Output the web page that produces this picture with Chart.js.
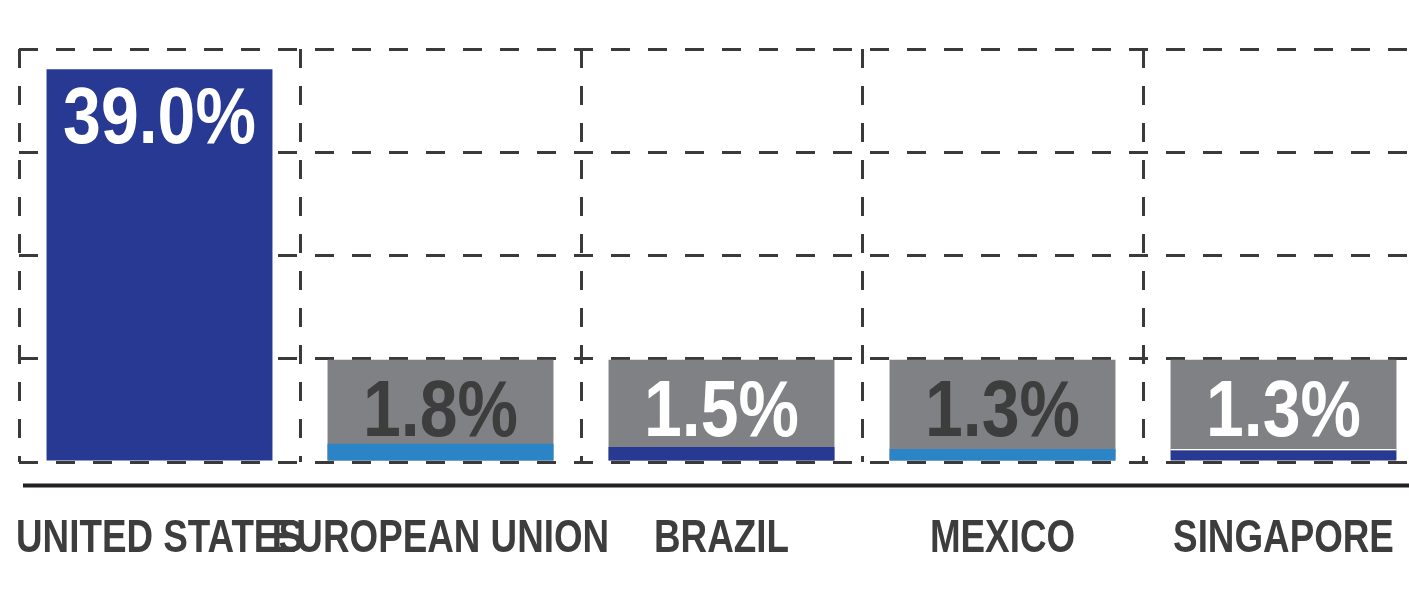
<!DOCTYPE html>
<html>
<head>
<meta charset="utf-8">
<script src="https://cdn.jsdelivr.net/npm/chart.js@4"></script>
<style>
  html, body { margin: 0; padding: 0; background: #fff; overflow: hidden; }
  #wrap { position: relative; width: 1440px; height: 592px; }
</style>
</head>
<body>
<div id="wrap"><canvas id="chart"></canvas></div>
<script>
// share of exports (%)
const countries = ['UNITED STATES', 'EUROPEAN UNION', 'BRAZIL', 'MEXICO', 'SINGAPORE'];
const shares    = [39.0, 1.8, 1.5, 1.3, 1.3];
const gridSteps = [0, 10.25, 20.5, 30.75, 41];

const barColors   = ['#283993', '#2b84c6', '#283993', '#2b84c6', '#283993'];
const valueColors = ['#ffffff', '#3d3d3d', '#ffffff', '#3d3d3d', '#ffffff'];
const FONT = "'Liberation Sans', Arial, sans-serif";

// draw text squeezed horizontally to imitate a condensed face
function narrowText(ctx, txt, x, y, squeeze) {
  ctx.save();
  ctx.translate(x, y);
  ctx.scale(squeeze, 1);
  ctx.fillText(txt, 0, 0);
  ctx.restore();
}

// grey label box behind the short bars, value texts, category names, base line
const decorations = {
  id: 'decorations',
  beforeDatasetsDraw(chart) {
    const { ctx, scales: { y } } = chart;
    const boxTop = y.getPixelForValue(gridSteps[1]) + 1;
    chart.getDatasetMeta(0).data.forEach((bar, i) => {
      if (shares[i] >= gridSteps[1]) return;
      const { x, width, base } = bar.getProps(['x', 'width', 'base'], true);
      ctx.save();
      ctx.fillStyle = '#808184';
      ctx.fillRect(x - width / 2, boxTop, width, base - boxTop);
      ctx.restore();
    });
  },
  afterDatasetsDraw(chart) {
    const { ctx, scales: { y } } = chart;
    const boxTop = y.getPixelForValue(gridSteps[1]);
    ctx.save();
    ctx.font = `bold 80px ${FONT}`;
    ctx.textAlign = 'center';
    ctx.textBaseline = 'alphabetic';
    chart.getDatasetMeta(0).data.forEach((bar, i) => {
      const { x, y: top, base } = bar.getProps(['x', 'y', 'base'], true);
      ctx.fillStyle = valueColors[i];
      const yy = shares[i] >= gridSteps[1] ? top + 74 : boxTop + (base - boxTop) * 0.76;
      narrowText(ctx, shares[i].toFixed(1) + '%', x, yy, 0.85);
    });
    ctx.restore();
  },
  afterDraw(chart) {
    const { ctx, chartArea, scales: { x } } = chart;
    ctx.save();
    ctx.strokeStyle = '#231f20';
    ctx.lineWidth = 4;
    ctx.beginPath();
    ctx.moveTo(chartArea.left + 4, chartArea.bottom + 23.5);
    ctx.lineTo(chart.width, chartArea.bottom + 23.5);
    ctx.stroke();

    ctx.fillStyle = '#3d3d3d';
    ctx.font = `bold 46px ${FONT}`;
    ctx.textAlign = 'center';
    ctx.textBaseline = 'alphabetic';
    countries.forEach((c, i) => {
      narrowText(ctx, c, x.getPixelForValue(i), chartArea.bottom + 90, 0.8);
    });
    ctx.restore();
  },
};

new Chart(document.getElementById('chart'), {
  type: 'bar',
  data: {
    labels: countries,
    datasets: [{
      data: shares,
      backgroundColor: barColors,
      borderColor: '#ffffff',
      borderWidth: ctx => (ctx.dataIndex === 4 ? { top: 1.5 } : 0),
      borderSkipped: 'start',
      barPercentage: 0.804,
      categoryPercentage: 1,
    }],
  },
  options: {
    responsive: true,
    maintainAspectRatio: false,
    animation: false,
    layout: { padding: { top: 49, left: 19, right: 16, bottom: 130 } },
    plugins: { legend: { display: false }, tooltip: { enabled: false } },
    scales: {
      x: {
        grid: { color: '#3a3a3a', lineWidth: 3, drawTicks: false, offset: true },
        border: { display: false, dash: [19, 18] },
        ticks: { display: false },
      },
      y: {
        min: 0,
        max: 41,
        afterBuildTicks: s => { s.ticks = gridSteps.map(v => ({ value: v })); },
        grid: { color: '#3a3a3a', lineWidth: 3, drawTicks: false },
        border: { display: false, dash: [19, 18] },
        ticks: { display: false },
      },
    },
  },
  plugins: [decorations],
});
</script>
</body>
</html>
